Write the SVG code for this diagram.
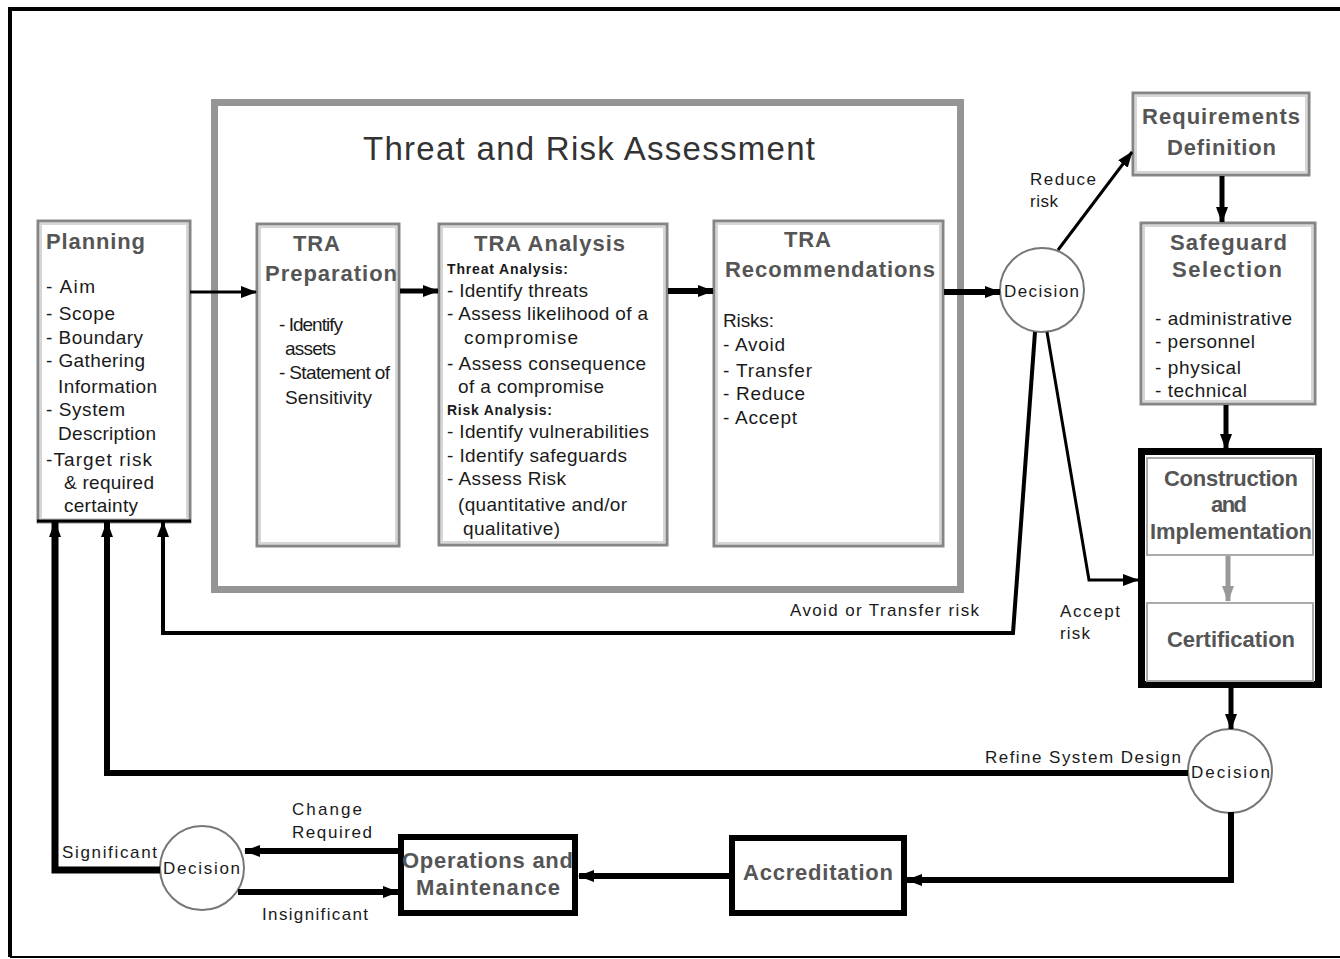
<svg xmlns="http://www.w3.org/2000/svg" width="1340" height="959" viewBox="0 0 1340 959">
<style>
text{font-family:"Liberation Sans",Arial,sans-serif;fill:#1a1a1a}
.h{font-size:22px;fill:#555;font-weight:bold}
.b{font-size:19px}
.s{font-size:14px;font-weight:bold}
.lbl{font-size:17px}
.box{fill:#fff;stroke:#858585;stroke-width:3}
.inner{fill:none;stroke:#d6d6d6;stroke-width:2}
.thick{fill:#fff;stroke:#000;stroke-width:6}
.dec{fill:#fff;stroke:#777;stroke-width:2}
.c{fill:none;stroke:#000}
</style>
<defs>
<marker id="a" viewBox="0 0 16 12" markerUnits="userSpaceOnUse" markerWidth="16" markerHeight="12" refX="15" refY="6" orient="auto"><path d="M0,0 L16,6 L0,12 z" fill="#000"/></marker>
<marker id="g" viewBox="0 0 16 12" markerUnits="userSpaceOnUse" markerWidth="16" markerHeight="12" refX="15" refY="6" orient="auto"><path d="M0,0 L16,6 L0,12 z" fill="#999"/></marker>
</defs>
<rect width="1340" height="959" fill="#fff"/>
<path d="M1340,9 H10 V957" fill="none" stroke="#000" stroke-width="4"/>
<path d="M10,957 H1340" fill="none" stroke="#000" stroke-width="2"/>

<g id="tra">
<rect x="214.5" y="102.5" width="746" height="487" fill="none" stroke="#959595" stroke-width="7"/>
<text x="363" y="160" style="font-size:33px;fill:#333" textLength="452">Threat and Risk Assessment</text>
</g>

<g id="planning">
<rect class="box" x="38" y="221" width="152" height="301"/>
<rect class="inner" x="41" y="224" width="146" height="295"/>
<line x1="37" y1="521" x2="191" y2="521" stroke="#000" stroke-width="3"/>
<text class="h" x="46" y="249" textLength="99">Planning</text>
<text class="b" x="46" y="293" textLength="49">- Aim</text>
<text class="b" x="46" y="320" textLength="69">- Scope</text>
<text class="b" x="46" y="344" textLength="97">- Boundary</text>
<text class="b" x="46" y="367" textLength="99">- Gathering</text>
<text class="b" x="58" y="393" textLength="99">Information</text>
<text class="b" x="46" y="416" textLength="79">- System</text>
<text class="b" x="58" y="440" textLength="98">Description</text>
<text class="b" x="46" y="466" textLength="106">-Target risk</text>
<text class="b" x="64" y="489" textLength="90">&amp; required</text>
<text class="b" x="64" y="512" textLength="74">certainty</text>
</g>

<g id="prep">
<rect class="box" x="257" y="224" width="142" height="322"/>
<rect class="inner" x="260" y="227" width="136" height="316"/>
<text class="h" x="293" y="251" textLength="47">TRA</text>
<text class="h" x="265" y="281" textLength="132">Preparation</text>
<text class="b" x="279" y="331" textLength="64">- Identify</text>
<text class="b" x="285" y="355" textLength="51">assets</text>
<text class="b" x="279" y="379" textLength="111">- Statement of</text>
<text class="b" x="285" y="404" textLength="87">Sensitivity</text>
</g>

<g id="analysis">
<rect class="box" x="439" y="224" width="228" height="321"/>
<rect class="inner" x="442" y="227" width="222" height="315"/>
<text class="h" x="474" y="251" textLength="151">TRA Analysis</text>
<text class="s" x="447" y="274" textLength="121">Threat Analysis:</text>
<text class="b" x="447" y="297" textLength="141">- Identify threats</text>
<text class="b" x="447" y="320" textLength="201">- Assess likelihood of a</text>
<text class="b" x="464" y="344" textLength="114">compromise</text>
<text class="b" x="447" y="370" textLength="199">- Assess consequence</text>
<text class="b" x="458" y="393" textLength="146">of a compromise</text>
<text class="s" x="447" y="415" textLength="105">Risk Analysis:</text>
<text class="b" x="447" y="438" textLength="202">- Identify vulnerabilities</text>
<text class="b" x="447" y="462" textLength="180">- Identify safeguards</text>
<text class="b" x="447" y="485" textLength="119">- Assess Risk</text>
<text class="b" x="458" y="511" textLength="169">(quantitative and/or</text>
<text class="b" x="463" y="535" textLength="97">qualitative)</text>
</g>

<g id="recommendations">
<rect class="box" x="714" y="221" width="229" height="325"/>
<rect class="inner" x="717" y="224" width="223" height="319"/>
<text class="h" x="784" y="247" textLength="47">TRA</text>
<text class="h" x="725" y="277" textLength="210">Recommendations</text>
<text class="b" x="723" y="327" textLength="51">Risks:</text>
<text class="b" x="723" y="351" textLength="62">- Avoid</text>
<text class="b" x="723" y="377" textLength="89">- Transfer</text>
<text class="b" x="723" y="400" textLength="82">- Reduce</text>
<text class="b" x="723" y="424" textLength="74">- Accept</text>
</g>

<g id="decision1">
<circle class="dec" cx="1042" cy="290" r="42"/>
<text class="lbl" x="1004" y="297" textLength="75">Decision</text>
</g>

<g id="requirements">
<rect class="box" x="1133" y="93" width="176" height="82"/>
<rect class="inner" x="1136" y="96" width="170" height="76"/>
<text class="h" x="1142" y="124" textLength="158">Requirements</text>
<text class="h" x="1167" y="155" textLength="109">Definition</text>
</g>

<g id="safeguard">
<rect class="box" x="1141" y="223" width="174" height="181"/>
<rect class="inner" x="1144" y="226" width="168" height="175"/>
<text class="h" x="1170" y="250" textLength="117">Safeguard</text>
<text class="h" x="1172" y="277" textLength="110">Selection</text>
<text class="b" x="1155" y="325" textLength="137">- administrative</text>
<text class="b" x="1155" y="348" textLength="100">- personnel</text>
<text class="b" x="1155" y="374" textLength="86">- physical</text>
<text class="b" x="1155" y="397" textLength="92">- technical</text>
</g>

<g id="construction">
<rect x="1141.5" y="451.5" width="177" height="233" fill="#fff" stroke="#000" stroke-width="7"/>
<rect x="1147" y="458" width="166" height="97" fill="none" stroke="#aaa" stroke-width="2"/>
<rect x="1147" y="603" width="166" height="78" fill="none" stroke="#aaa" stroke-width="2"/>
<text class="h" x="1164" y="486" textLength="134">Construction</text>
<text class="h" x="1211" y="512" textLength="36">and</text>
<text class="h" x="1150" y="539" textLength="162">Implementation</text>
<text class="h" x="1167" y="647" textLength="128">Certification</text>
</g>

<g id="decision2">
<circle class="dec" cx="1230" cy="771" r="42"/>
<text class="lbl" x="1191" y="778" textLength="79">Decision</text>
</g>

<g id="accreditation">
<rect class="thick" x="732" y="838" width="172" height="75"/>
<text class="h" x="743" y="880" textLength="150">Accreditation</text>
</g>

<g id="operations">
<rect class="thick" x="401" y="837" width="174" height="76"/>
<text class="h" x="402" y="868" textLength="171">Operations and</text>
<text class="h" x="416" y="895" textLength="144">Maintenance</text>
</g>

<g id="decision3">
<circle class="dec" cx="202" cy="868" r="42"/>
<text class="lbl" x="163" y="874" textLength="77">Decision</text>
</g>

<g id="connectors">
<path class="c" d="M190,292 H256" stroke-width="3" marker-end="url(#a)"/>
<path class="c" d="M400,291 H438" stroke-width="5" marker-end="url(#a)"/>
<path class="c" d="M668,291 H713" stroke-width="6" marker-end="url(#a)"/>
<path class="c" d="M944,292 H1000" stroke-width="6" marker-end="url(#a)"/>
<path class="c" d="M1058,250 L1132,152" stroke-width="3" marker-end="url(#a)"/>
<path class="c" d="M1222,176 V222" stroke-width="5" marker-end="url(#a)"/>
<path class="c" d="M1226,405 V449" stroke-width="5" marker-end="url(#a)"/>
<path d="M1228,556 V601" fill="none" stroke="#999" stroke-width="5" marker-end="url(#g)"/>
<path class="c" d="M1047,332 L1089,580 H1138" stroke-width="3" marker-end="url(#a)"/>
<path class="c" d="M1035,332 L1013,633 H163 V522" stroke-width="4" marker-end="url(#a)"/>
<path class="c" d="M1231,688 V729" stroke-width="5" marker-end="url(#a)"/>
<path class="c" d="M1188,773 H107 V522" stroke-width="6" marker-end="url(#a)"/>
<path class="c" d="M1231,812 V880 H907" stroke-width="6" marker-end="url(#a)"/>
<path class="c" d="M729,876 H579" stroke-width="6" marker-end="url(#a)"/>
<path class="c" d="M398,851 H245" stroke-width="6" marker-end="url(#a)"/>
<path class="c" d="M238,892 H398" stroke-width="6" marker-end="url(#a)"/>
<path class="c" d="M160,870 H55 V522" stroke-width="7" marker-end="url(#a)"/>
<text class="lbl" x="1030" y="185" textLength="66">Reduce</text>
<text class="lbl" x="1030" y="207" textLength="28">risk</text>
<text class="lbl" x="1060" y="617" textLength="60">Accept</text>
<text class="lbl" x="1060" y="639" textLength="30">risk</text>
<text class="lbl" x="790" y="616" textLength="189">Avoid or Transfer risk</text>
<text class="lbl" x="985" y="763" textLength="196">Refine System Design</text>
<text class="lbl" x="292" y="815" textLength="70">Change</text>
<text class="lbl" x="292" y="838" textLength="80">Required</text>
<text class="lbl" x="62" y="858" textLength="95">Significant</text>
<text class="lbl" x="262" y="920" textLength="106">Insignificant</text>
</g>
</svg>
